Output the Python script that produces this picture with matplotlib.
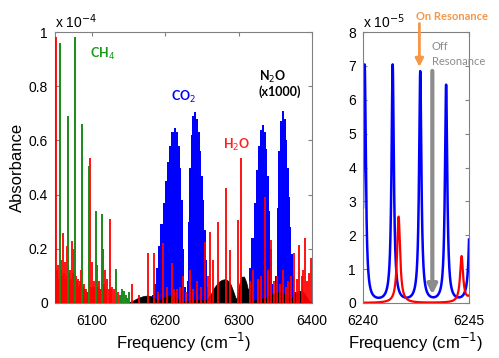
import numpy as np
import matplotlib.pyplot as plt

plt.rcParams['font.family'] = ['Liberation Sans', 'DejaVu Sans']

# ---- left panel: absorbance in units of 1e-4 ----
ch4_freq = [6056.8, 6067.3, 6076.8, 6086.8, 6095.9, 6105.8, 6114.0, 6133.0,
            6139.0, 6141.7, 6144.0, 6146.5, 6150.4]
ch4_abs = [0.96, 0.69, 0.98, 0.66, 0.505, 0.34, 0.33, 0.125,
           0.03, 0.05, 0.045, 0.03, 0.04]

h2o_freq = [6051.5, 6052.8, 6054.0, 6055.2, 6056.5, 6057.6, 6058.5, 6059.8,
            6061.0, 6062.3, 6063.5, 6064.8, 6066.0, 6067.0, 6068.0, 6069.3,
            6070.5, 6071.8, 6073.0, 6074.3, 6075.5, 6076.6, 6078.0, 6079.3,
            6080.5, 6081.8, 6083.0, 6084.5, 6086.0, 6087.5, 6089.0, 6090.5,
            6092.0, 6094.0, 6097.7, 6099.0, 6100.0, 6101.3, 6102.5, 6104.0,
            6105.0, 6106.3, 6107.5, 6108.8, 6110.0, 6111.5, 6113.0, 6114.5,
            6116.0, 6117.3, 6118.5, 6120.0, 6121.0, 6123.0, 6125.0, 6126.5,
            6128.0, 6131.0, 6133.5, 6136.0, 6140.0, 6148.0, 6154.4, 6165.0,
            6177.0, 6184.8, 6190.0, 6197.5, 6203.0, 6208.9, 6212.0, 6216.0,
            6220.0, 6224.8, 6229.0, 6233.9, 6238.0, 6243.0, 6249.0, 6254.3,
            6258.0, 6261.1, 6265.6, 6272.5, 6282.9, 6288.4, 6298.8, 6302.9,
            6315.0, 6320.0, 6326.0, 6330.0, 6336.0, 6340.0, 6344.0, 6348.0,
            6352.0, 6356.0, 6361.0, 6364.0, 6367.8, 6371.0, 6375.5,
            6379.0, 6382.7, 6386.0, 6388.0, 6390.5,
            6393.0, 6395.5, 6398.3]
h2o_abs = [0.98, 0.12, 0.14, 0.09, 0.10, 0.12, 0.16, 0.10,
           0.26, 0.11, 0.15, 0.09, 0.21, 0.10, 0.18, 0.11,
           0.12, 0.09, 0.23, 0.11, 0.20, 0.09, 0.10, 0.07,
           0.08, 0.09, 0.06, 0.08, 0.12, 0.06, 0.07, 0.05,
           0.05, 0.04, 0.535, 0.06, 0.15, 0.06, 0.08, 0.05,
           0.06, 0.07, 0.14, 0.06, 0.08, 0.05, 0.05, 0.06,
           0.20, 0.07, 0.12, 0.05, 0.09, 0.05, 0.31, 0.05,
           0.06, 0.05, 0.03, 0.04, 0.03, 0.02, 0.07, 0.03,
           0.185, 0.183, 0.04, 0.223, 0.06, 0.146, 0.05, 0.05,
           0.06, 0.10, 0.04, 0.12, 0.05, 0.08, 0.06, 0.226,
           0.10, 0.263, 0.16, 0.30, 0.423, 0.196, 0.306, 0.535,
           0.08, 0.12, 0.09, 0.10, 0.392, 0.12, 0.232, 0.08,
           0.10, 0.07, 0.12, 0.06, 0.08, 0.10, 0.184,
           0.09, 0.214, 0.10, 0.12, 0.239,
           0.08, 0.11, 0.165]

# CO2 band envelopes (two bands, P and R branches)
co2_freq = [6180, 6183, 6186, 6189, 6192, 6195, 6198, 6201, 6204, 6207,
            6210, 6213, 6216, 6219, 6221, 6223, 6225, 6227, 6228.5,
            6230, 6232, 6234, 6236, 6238, 6241, 6244, 6246, 6248, 6250,
            6252, 6254, 6256, 6258, 6260,
            6310, 6313, 6316, 6319, 6322, 6325, 6328, 6331, 6333, 6336,
            6338, 6340, 6342, 6344, 6346, 6348, 6349.5,
            6351, 6353, 6355, 6357, 6360, 6363, 6365, 6367, 6369, 6371,
            6373, 6375, 6377, 6379]
co2_abs = [0.0, 0.03, 0.07, 0.13, 0.21, 0.29, 0.37, 0.45, 0.52, 0.58,
           0.63, 0.646, 0.63, 0.58, 0.50, 0.38, 0.20, 0.06, 0.0,
           0.08, 0.30, 0.50, 0.62, 0.69, 0.705, 0.68, 0.63, 0.56, 0.47,
           0.38, 0.27, 0.16, 0.06, 0.0,
           0.0, 0.05, 0.13, 0.24, 0.37, 0.49, 0.58, 0.64, 0.657, 0.63,
           0.57, 0.47, 0.34, 0.20, 0.07, 0.0, 0.0,
           0.10, 0.35, 0.56, 0.67, 0.709, 0.68, 0.60, 0.50, 0.39, 0.28,
           0.18, 0.10, 0.04, 0.0]

co2_hot_freq = [6081, 6084, 6087, 6090, 6093]
co2_hot_abs = [0.05, 0.065, 0.06, 0.05, 0.04]

# N2O (x1000)
n2o_freq = [6150, 6156, 6163, 6170, 6176, 6182, 6188, 6193, 6198, 6203,
            6208, 6213, 6218, 6223, 6228, 6235, 6242, 6248, 6253, 6258,
            6263, 6268, 6273, 6278, 6282, 6286, 6290, 6294, 6297, 6299,
            6302, 6305, 6308, 6311, 6314, 6317, 6320, 6325, 6330, 6336,
            6342, 6348, 6354, 6359, 6364, 6368, 6371, 6374, 6378, 6382,
            6385, 6389, 6393, 6396, 6400]
n2o_abs = [0.0, 0.006, 0.016, 0.023, 0.026, 0.023, 0.013, 0.007, 0.016, 0.025,
           0.027, 0.023, 0.013, 0.006, 0.005, 0.009, 0.011, 0.009, 0.007, 0.013,
           0.032, 0.057, 0.075, 0.084, 0.086, 0.081, 0.066, 0.037, 0.013, 0.022,
           0.072, 0.095, 0.096, 0.076, 0.041, 0.013, 0.007, 0.009, 0.013, 0.017,
           0.025, 0.033, 0.038, 0.037, 0.031, 0.019, 0.013, 0.021, 0.034, 0.042,
           0.043, 0.037, 0.021, 0.007, 0.0]

# ---- right panel: line centres and peak absorbance in units of 1e-5 ----
co2_zoom_center = [6238.8, 6240.08, 6241.4, 6242.7, 6243.92, 6245.1]
co2_zoom_peak = [7.0, 7.0, 7.0, 6.8, 6.4, 6.2]
h2o_zoom_center = [6241.68, 6244.65, 6245.3]
h2o_zoom_peak = [2.55, 1.35, 2.0]
co2_hwhm = 0.065
h2o_hwhm = 0.085

on_res = 6242.66
off_res = 6243.27

fig = plt.figure(figsize=(4.99, 3.58), dpi=100)
ax1 = fig.add_axes([55 / 499, 55 / 358, 257 / 499, 271 / 358])
ax2 = fig.add_axes([363 / 499, 55 / 358, 106 / 499, 271 / 358])

ax1.fill_between(co2_freq, co2_abs, step='mid', color='#0000ff', lw=0)
ax1.vlines(co2_hot_freq, 0, co2_hot_abs, color='#0000ff', lw=1.3)
ax1.fill(n2o_freq, n2o_abs, color='black', lw=0.5, zorder=2.5)
ax1.vlines(h2o_freq, 0, h2o_abs, color='#ff0000', lw=1.3, zorder=3)
ax1.vlines(ch4_freq, 0, ch4_abs, color='#1a8a1a', lw=1.4, zorder=3.5)

ax1.set_xlim(6050, 6400)
ax1.set_ylim(0, 1)
ax1.set_xticks([6100, 6200, 6300, 6400])
ax1.set_yticks([0, 0.2, 0.4, 0.6, 0.8, 1])
ax1.set_yticklabels(['0', '0.2', '0.4', '0.6', '0.8', '1'])
ax1.set_ylabel('Absorbance', fontsize=12, labelpad=3)
ax1.set_xlabel('Frequency (cm$^{-1}$)', fontsize=12, labelpad=2)
ax1.text(0.0, 1.005, 'x 10$^{-4}$', transform=ax1.transAxes, fontsize=10,
         ha='left', va='bottom')

lab = dict(fontsize=9, fontweight='bold', family=['Lato', 'DejaVu Sans'])
ax1.text(6097.7, 0.92, 'CH$_4$', color='#1a9a1a', ha='left', va='center', **lab)
ax1.text(6225.7, 0.76, 'CO$_2$', color='#0000ff', ha='center', va='center', **lab)
ax1.text(6297.5, 0.583, 'H$_2$O', color='#ff2020', ha='center', va='center', **lab)
ax1.text(6327.5, 0.81, 'N$_2$O\n(x1000)', color='black', ha='left', va='center',
         linespacing=1.1, **lab)

f = np.linspace(6240, 6245, 2000)
co2_curve = sum(p * co2_hwhm**2 / ((f - c)**2 + co2_hwhm**2)
                for c, p in zip(co2_zoom_center, co2_zoom_peak))
h2o_curve = sum(p * h2o_hwhm**2 / ((f - c)**2 + h2o_hwhm**2)
                for c, p in zip(h2o_zoom_center, h2o_zoom_peak))
ax2.plot(f, co2_curve, color='#0000ff', lw=1.8)
ax2.plot(f, h2o_curve, color='#ff0000', lw=1.6)
ax2.set_xlim(6240, 6245)
ax2.set_ylim(0, 8)
ax2.set_xticks([6240, 6245])
ax2.set_yticks(range(0, 9))
ax2.set_xlabel('Frequency (cm$^{-1}$)', fontsize=12, labelpad=2)
ax2.text(0.0, 1.005, 'x 10$^{-5}$', transform=ax2.transAxes, fontsize=10,
         ha='left', va='bottom')

ax2.annotate('', xy=(off_res, 0.25), xytext=(off_res, 6.85),
             arrowprops=dict(arrowstyle='-|>', lw=3, color='#8c8c8c',
                             mutation_scale=14, shrinkA=0, shrinkB=0))
ax2.annotate('', xy=(on_res, 6.97), xytext=(on_res, 8.25),
             arrowprops=dict(arrowstyle='-|>', lw=2, color='#f79646',
                             mutation_scale=12, shrinkA=0, shrinkB=0),
             annotation_clip=False)
fig.text(452.5 / 499, 1 - 16 / 358, 'On Resonance', color='#f79646', fontsize=8,
         fontweight='bold', family=['Lato', 'DejaVu Sans'], ha='center', va='center')
ax2.text(6243.25, 7.35, 'Off\nResonance', color='#8c8c8c', fontsize=8,
         family=['Lato', 'DejaVu Sans'], ha='left', va='center', linespacing=1.5)

for ax in (ax1, ax2):
    ax.tick_params(direction='in', length=3, top=True, right=True,
                   labelsize=10, color='#808080', pad=5)
    ax.tick_params(axis='x', pad=8)
    for s in ax.spines.values():
        s.set_color('#808080')
        s.set_linewidth(0.8)

fig.savefig('out.png', dpi=100)
